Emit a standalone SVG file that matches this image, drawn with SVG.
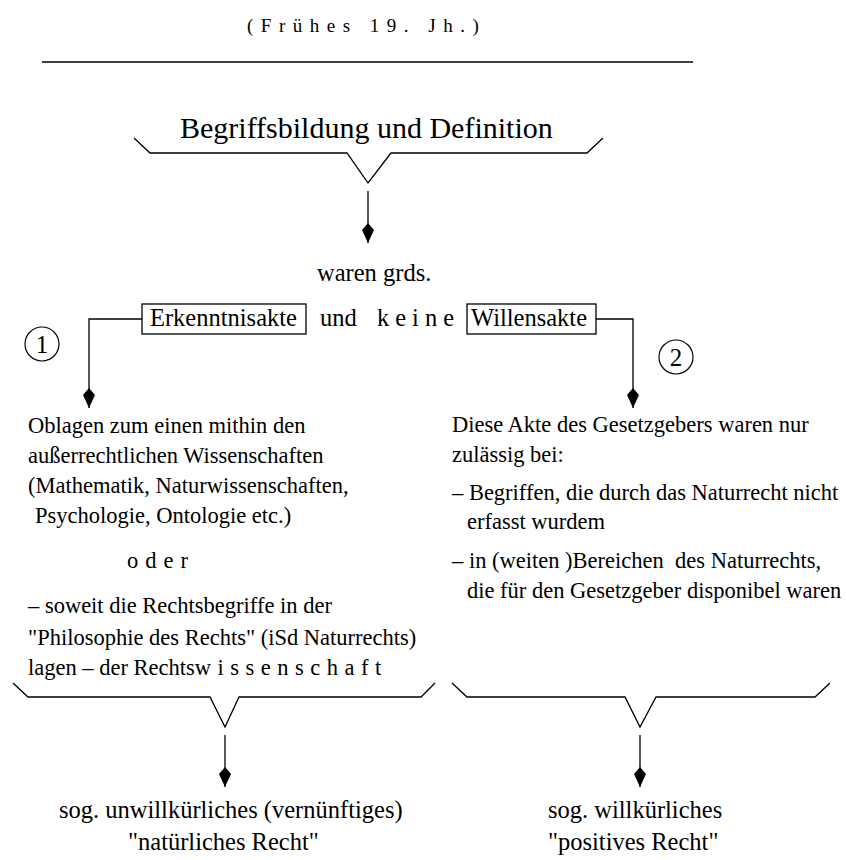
<svg xmlns="http://www.w3.org/2000/svg" width="846" height="860" viewBox="0 0 846 860" font-family="'Liberation Serif', 'Times New Roman', Times, 'DejaVu Serif', serif">
<style>
text{font-family:"Liberation Serif","Times New Roman",Times,"DejaVu Serif",serif;fill:#000;white-space:pre}
.body{font-size:22.5px}
.mid{font-size:24.5px}
.line{fill:none;stroke:#000;stroke-width:1.3}
.box{fill:#fff;stroke:#000;stroke-width:1.3}
</style>
<defs>
<marker id="kite" viewBox="-21 -7 22 14" refX="0" refY="0" markerWidth="22" markerHeight="14" markerUnits="userSpaceOnUse" orient="auto">
<path d="M0,0 L-13,-6 L-20,0 L-13,6 Z" fill="#000"/>
</marker>
</defs>
<rect width="846" height="860" fill="#fff"/>
<g id="header">
<text x="247" y="32" style="font-size:19px;letter-spacing:7.5px">(Frühes 19. Jh.)</text>
<line x1="42" y1="62" x2="693" y2="62" stroke="#000" stroke-width="1.5"/>
</g>
<g id="begriffsbildung">
<text x="180" y="138" style="font-size:30px">Begriffsbildung und Definition</text>
</g>
<g id="braces">
<polyline class="line" points="134,138 150,153 347,153 368,183 391,153 587,153 603,138"/>
<polyline class="line" points="13,683 28,697 210,697 225,727 239,697 421,697 435,683"/>
<polyline class="line" points="452,683 467,697 625,697 640,727 656,697 815,697 830,683"/>
</g>
<g id="waren">
<text class="mid" x="317" y="281">waren grds.</text>
</g>
<g id="erkenntnisakte">
<rect class="box" x="142" y="304" width="164" height="30"/>
<text class="mid" x="150" y="326">Erkenntnisakte</text>
</g>
<g id="und-keine">
<text class="mid" x="320" y="326">und</text>
<text class="mid" x="377" y="326" style="letter-spacing:6px">keine</text>
</g>
<g id="willensakte">
<rect class="box" x="467" y="304" width="129" height="30"/>
<text class="mid" x="471" y="326">Willensakte</text>
</g>
<g id="marker1">
<circle cx="42" cy="344" r="17" fill="none" stroke="#000" stroke-width="1.2"/>
<text x="42" y="353" text-anchor="middle" style="font-size:25px">1</text>
</g>
<g id="marker2">
<circle cx="676" cy="357" r="17" fill="none" stroke="#000" stroke-width="1.2"/>
<text x="676" y="366" text-anchor="middle" style="font-size:25px">2</text>
</g>
<g id="left-text">
<text class="body" x="28" y="433">Oblagen zum einen mithin den</text>
<text class="body" x="28" y="463">außerrechtlichen Wissenschaften</text>
<text class="body" x="28" y="493">(Mathematik, Naturwissenschaften,</text>
<text class="body" x="35" y="523">Psychologie, Ontologie etc.)</text>
<text class="body" x="127" y="568" style="letter-spacing:7px">oder</text>
<text class="body" x="28" y="613">– soweit die Rechtsbegriffe in der</text>
<text class="body" x="28" y="645">"Philosophie des Rechts" (iSd Naturrechts)</text>
<text class="body" x="28" y="675">lagen – der Rechts<tspan style="letter-spacing:6.5px">wissenschaft</tspan></text>
</g>
<g id="right-text">
<text class="body" x="452" y="432">Diese Akte des Gesetzgebers waren nur</text>
<text class="body" x="452" y="462">zulässig bei:</text>
<text class="body" x="452" y="500">– Begriffen, die durch das Naturrecht nicht</text>
<text class="body" x="467" y="529">erfasst wurdem</text>
<text class="body" x="452" y="568">– in (weiten )Bereichen  des Naturrechts,</text>
<text class="body" x="467" y="598">die für den Gesetzgeber disponibel waren</text>
</g>
<g id="natuerliches-recht">
<text class="mid" x="59" y="818">sog. unwillkürliches (vernünftiges)</text>
<text class="mid" x="128" y="850">"natürliches Recht"</text>
</g>
<g id="positives-recht">
<text class="mid" x="548" y="818">sog. willkürliches</text>
<text class="mid" x="548" y="850">"positives Recht"</text>
</g>
<g id="connectors">
<line class="line" x1="368" y1="191" x2="368" y2="243" marker-end="url(#kite)"/>
<polyline class="line" points="142,319 89,319 89,408" marker-end="url(#kite)"/>
<polyline class="line" points="596,319 633,319 633,408" marker-end="url(#kite)"/>
<line class="line" x1="225" y1="735" x2="225" y2="787" marker-end="url(#kite)"/>
<line class="line" x1="640" y1="735" x2="640" y2="787" marker-end="url(#kite)"/>
</g>
</svg>
